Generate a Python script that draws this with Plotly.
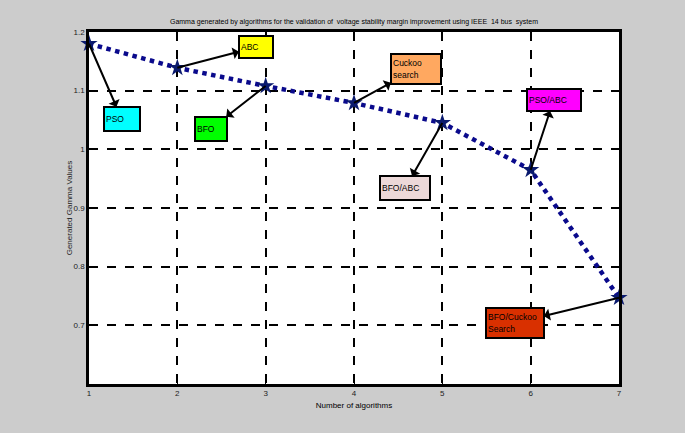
import plotly.graph_objects as go

algorithms = [1, 2, 3, 4, 5, 6, 7]
gamma = [1.18, 1.139, 1.108, 1.079, 1.045, 0.965, 0.747]

labels = ["PSO", "ABC", "BFO", "Cuckoo<br>search", "BFO/ABC", "PSO/ABC", "BFO/Cuckoo<br>Search"]
label_x = [1.37, 2.89, 2.38, 4.70, 4.58, 6.26, 5.82]
label_y = [1.052, 1.174, 1.035, 1.137, 0.934, 1.084, 0.704]
label_colors = ["#00ffff", "#ffff00", "#00ff00", "#ffa860", "#ecd8d8", "#ff00ff", "#d93000"]
label_w = [32, 30, 28, 46, 46, 50, 54]
label_h = [20, 18, 20, 26, 20, 18, 26]

FONT = "Liberation Sans Narrow, Arial Narrow, Liberation Sans, Arial"

fig = go.Figure()
fig.add_trace(go.Scatter(
    x=algorithms, y=gamma, mode="lines+markers",
    line=dict(color="#0a0a8c", width=4.5, dash="dot"),
    marker=dict(symbol="star", size=13, color="#0a1a6e"),
    showlegend=False, cliponaxis=False,
))

for i in range(len(labels)):
    fig.add_annotation(
        x=algorithms[i], y=gamma[i], xref="x", yref="y",
        ax=label_x[i], ay=label_y[i], axref="x", ayref="y",
        text=labels[i], showarrow=True, arrowside="start",
        arrowhead=2, arrowsize=1, arrowwidth=2, arrowcolor="black",
        bgcolor=label_colors[i], bordercolor="black", borderwidth=2,
        width=label_w[i], height=label_h[i], align="left", valign="middle",
        font=dict(size=8.5, color="black", family=FONT),
    )

axis_common = dict(
    showline=True, linecolor="black", linewidth=2.5, mirror=True,
    showgrid=True, gridcolor="black", gridwidth=2, griddash="dash",
    zeroline=False, ticks="inside", ticklen=4, tickcolor="black",
    tickfont=dict(size=8, color="#222", family=FONT),
)

fig.update_xaxes(range=[1, 7], tickvals=[1, 2, 3, 4, 5, 6, 7],
                 title=dict(text="Number of algorithms", standoff=6,
                            font=dict(size=8, color="black", family=FONT)),
                 **axis_common)
fig.update_yaxes(range=[0.6, 1.2], tickvals=[0.7, 0.8, 0.9, 1.0, 1.1, 1.2],
                 ticktext=["0.7", "0.8", "0.9", "1", "1.1", "1.2"],
                 title=dict(text="Generated Gamma Values", standoff=0,
                            font=dict(size=8, color="#222", family=FONT)),
                 **axis_common)

fig.update_layout(
    width=685, height=433,
    margin=dict(l=89, r=66, t=32, b=49),
    paper_bgcolor="#cccccc", plot_bgcolor="white",
    title=dict(text="Gamma generated by algorithms for the validation of  voltage stability margin improvement using IEEE  14 bus  system",
               x=354 / 685, xanchor="center", y=1 - 22 / 433, yanchor="middle",
               font=dict(size=7, color="black", family=FONT)),
)

fig.write_html("out.html", config={"displayModeBar": False},
               post_script="document.body.style.margin='0px';document.body.style.overflow='hidden';")
